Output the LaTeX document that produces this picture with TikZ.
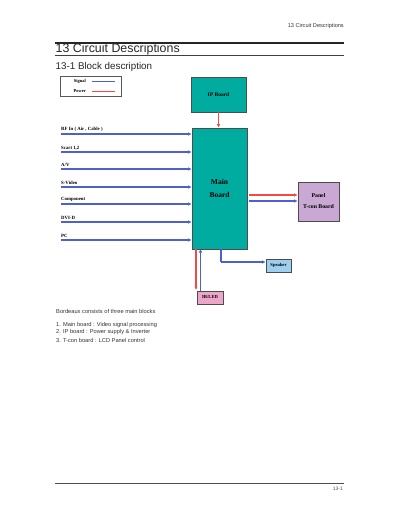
\documentclass[tikz,border=0pt]{standalone}
\usepackage{fontspec}
\setmainfont{Liberation Serif}
\newfontfamily\hv{Liberation Sans}
\usetikzlibrary{arrows.meta}
\definecolor{teal1}{HTML}{00AC9F}
\definecolor{purp}{HTML}{C9A8D4}
\definecolor{spk}{HTML}{9DCFEF}
\definecolor{irl}{HTML}{EDA5C9}
\definecolor{sig}{HTML}{4F5FCC}
\definecolor{pwr}{HTML}{F24A4A}
\tikzset{
  board/.style={draw=gray!60!black, line width=0.6pt, inner sep=0pt, font=\bfseries\fontsize{5.5}{7}\selectfont, align=center},
  sigline/.style={draw=sig, line width=1.3pt, -{Latex[length=3.5pt,width=3.5pt]}},
  pwrline/.style={draw=pwr, line width=1.3pt, -{Latex[length=3.5pt,width=3.5pt]}},
  inlabel/.style={anchor=south west, inner sep=0pt, font=\bfseries\fontsize{4.8}{5.5}\selectfont},
  body/.style={anchor=west, inner sep=0pt, font=\hv\fontsize{5.7}{6.5}\selectfont, text=black!80}
}
\begin{document}
\begin{tikzpicture}[x=1pt,y=-1pt]
\useasboundingbox (0,0) rectangle (400,518);
% header
\node[anchor=east, inner sep=0pt, font=\hv\fontsize{5.6}{6}\selectfont, text=black!80] (hdr) at (344,26) {13 Circuit Descriptions};
\draw[line width=1.6pt, black!85] (55,43) -- (344,43);
\node[anchor=west, inner sep=0pt, font=\hv\fontsize{12.4}{13}\selectfont, text=black!85] (ttl) at (55.5,49.5) {13 Circuit Descriptions};
\draw[line width=0.8pt, black!75] (55,55) -- (344,55);
\node[anchor=west, inner sep=0pt, font=\hv\fontsize{9.8}{10}\selectfont, text=black!85] (sub) at (55.5,66.5) {13-1 Block description};
% legend
\node[draw=gray!70!black, line width=0.6pt, minimum width=61pt, minimum height=20pt, inner sep=0pt] (leg) at (90.5,86) {};
\node[anchor=east, inner sep=0pt, font=\bfseries\fontsize{4.5}{5}\selectfont] (ls) at (86,81) {Signal};
\node[anchor=east, inner sep=0pt, font=\bfseries\fontsize{4.5}{5}\selectfont] (lp) at (86,91) {Power};
\fill[sig] (92,81) rectangle (115,82.4);
\fill[pwr] (92,91) rectangle (115,92.4);
% boards
\node[board, fill=teal1, minimum width=55pt, minimum height=35pt] (ip) at (218.5,94.5) {IP Board};
\node[board, fill=teal1, minimum width=55pt, minimum height=121pt, font=\bfseries\fontsize{7.5}{13}\selectfont] (main) at (219.5,188.5) {Main\\Board};
\node[board, fill=purp, minimum width=41pt, minimum height=39pt, font=\bfseries\fontsize{5.8}{11}\selectfont] (panel) at (318.5,201.5) {Panel\\T-con Board};
\node[board, fill=spk, minimum width=25pt, minimum height=13pt, font=\bfseries\fontsize{4.6}{5}\selectfont] (spk) at (278.5,265.5) {Speaker};
\node[board, fill=irl, minimum width=26pt, minimum height=13pt, font=\bfseries\fontsize{4.6}{5}\selectfont] (ir) at (210,297.5) {IR/LED};
% IP -> main
\draw[pwrline] (ip.south) -- (ip.south |- main.north);
% inputs
\foreach \y/\t/\n in {134/{RF In ( Air , Cable )}/a, 152/{Scart 1,2}/b, 169/{A/V}/c, 187/{S-Video}/d, 204/{Component}/e, 222/{DVI-D}/f, 240/{PC}/g} {
  \coordinate (s\n) at (61,\y);
  \node[inlabel] (l\n) at (61,\y-2) {\t};
  \draw[sigline] (s\n) -- (main.west |- s\n);
}
% main -> panel
\coordinate (pr) at (249,195);
\coordinate (pb) at (249,201);
\draw[pwrline] (pr) -- (panel.west |- pr);
\draw[sigline] (pb) -- (panel.west |- pb);
% main -> speaker
\coordinate (sp0) at (221,249);
\coordinate (sp1) at (221,262);
\draw[draw=sig, line width=1.3pt] (sp0) -- (sp1);
\draw[sigline] (sp1) -- (spk.west |- sp1);
% main <-> IR
\coordinate (r0) at (196,249);
\coordinate (r1) at (196,290);
\draw[pwrline] (r0) -- (r1);
\coordinate (b0) at (200.5,291);
\coordinate (b1) at (200.5,249);
\draw[sigline] (b0) -- (b1);
% text
\node[body] (t0) at (56,311) {Bordeaux consists of three main blocks};
\node[body] (t1) at (56,325) {1. Main board : Video signal processing};
\node[body] (t2) at (56,332.5) {2. IP board : Power supply \& Inverter};
\node[body] (t3) at (56,340) {3. T-con board : LCD Panel control};
% footer
\draw[line width=0.8pt, black!70] (55,483) -- (344,483);
\node[anchor=east, inner sep=0pt, font=\hv\fontsize{5}{5}\selectfont, text=black!70] (pg) at (343,488.5) {13-1};
\end{tikzpicture}
\end{document}
